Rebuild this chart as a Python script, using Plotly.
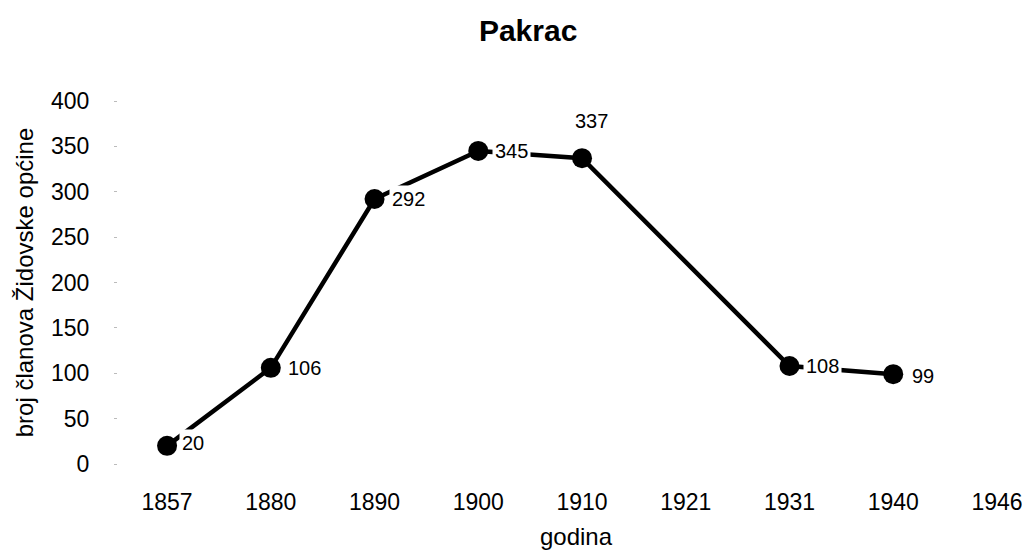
import plotly.graph_objects as go

years = ["1857", "1880", "1890", "1900", "1910", "1921", "1931", "1940", "1946"]
members = [20, 106, 292, 345, 337, None, 108, 99, None]
y_ticks = [0, 50, 100, 150, 200, 250, 300, 350, 400]

# label offsets (pixels) relative to each point: (xshift, yshift)
label_offsets = {"1857": (12, 3), "1880": (14, 0), "1890": (14, 0), "1900": (14, 0),
                 "1910": (9, 37), "1931": (14, 0), "1940": (16, -2)}

FONT = "Liberation Sans, Arial, sans-serif"

fig = go.Figure()
fig.add_trace(go.Scatter(
    x=years, y=members, mode="lines+markers", connectgaps=True,
    line=dict(color="black", width=4.5),
    marker=dict(color="black", size=20),
    cliponaxis=False, showlegend=False,
))

annotations = []
for i, (yr, v) in enumerate(zip(years, members)):
    if v is None:
        continue
    dx, dy = label_offsets[yr]
    annotations.append(dict(
        x=i, y=v, xref="x", yref="y", text=str(v), showarrow=False,
        xanchor="left" if yr != "1910" else "center", yanchor="middle",
        xshift=dx, yshift=dy, bgcolor="white", borderpad=2,
        font=dict(family=FONT, size=20, color="black"),
    ))

fig.update_layout(
    width=1030, height=554,
    margin=dict(l=110, r=4, t=93, b=98),
    paper_bgcolor="white", plot_bgcolor="white",
    title=dict(text="<b>Pakrac</b>", x=0.505, xanchor="center", y=0.96, yanchor="middle",
               font=dict(family=FONT, size=30, color="black")),
    font=dict(family=FONT, color="black"),
    annotations=annotations,
)
fig.update_xaxes(
    type="category", categoryorder="array", categoryarray=years,
    range=[-0.473, 8.357], showgrid=False, zeroline=False, showline=False,
    ticks="", tickfont=dict(size=23, family=FONT), ticklabelstandoff=22,
    title=dict(text="godina", font=dict(size=24, family=FONT), standoff=14),
)
fig.update_yaxes(
    range=[0, 400], tickvals=y_ticks, showgrid=False, zeroline=False, showline=False,
    ticks="outside", ticklen=3, tickcolor="#bbbbbb", tickwidth=1,
    tickfont=dict(size=23, family=FONT), ticklabelstandoff=20,
    title=dict(text="broj članova Židovske općine", font=dict(size=24, family=FONT), standoff=10),
)

fig.write_html("out.html")
